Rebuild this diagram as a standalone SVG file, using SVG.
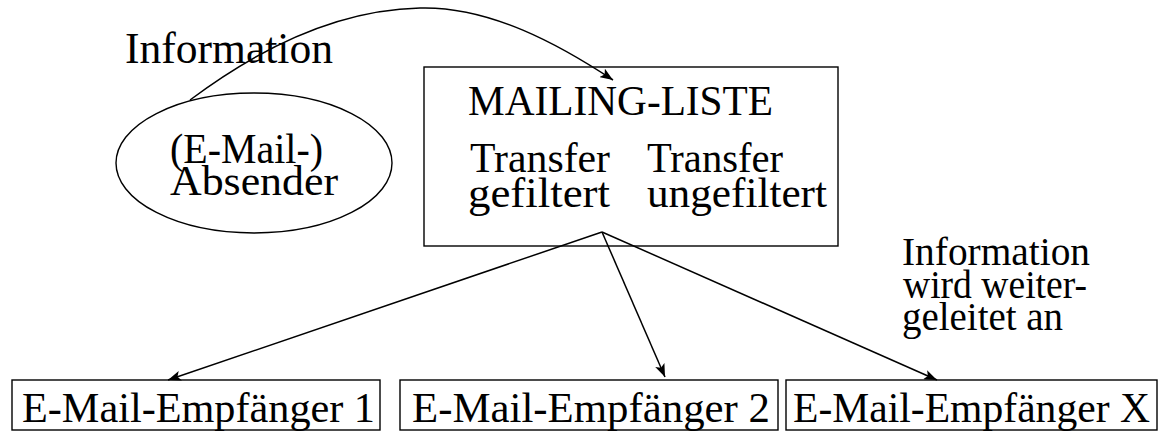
<svg xmlns="http://www.w3.org/2000/svg" width="1160" height="434" viewBox="0 0 1160 434">
  <style>
    .frame { fill: none; stroke: #000; stroke-width: 1.4; }
    .lbl { font-family: "Liberation Serif", "Times New Roman", serif; fill: #000; }
    .big { font-size: 44px; }
    .mid { font-size: 42px; }
    .small { font-size: 39px; }
    .wire { fill: none; stroke: #000; stroke-width: 1.5; marker-end: url(#head); }
  </style>
  <defs>
    <marker id="head" markerUnits="userSpaceOnUse" markerWidth="14" markerHeight="10" refX="13" refY="5" orient="auto">
      <path d="M0,0 L13,5 L0,10 L3,5 z" fill="#000"/>
    </marker>
  </defs>

  <!-- sender -->
  <g id="sender">
    <ellipse class="frame" cx="254" cy="163" rx="138" ry="70"/>
    <text class="lbl mid" x="170" y="163" textLength="153" lengthAdjust="spacingAndGlyphs">(E-Mail-)</text>
    <text class="lbl mid" x="170" y="195" textLength="168" lengthAdjust="spacingAndGlyphs">Absender</text>
  </g>

  <!-- mailing list -->
  <g id="mailing-list">
    <rect class="frame" x="424" y="67" width="414" height="179"/>
    <text class="lbl mid" x="468" y="115" textLength="305" lengthAdjust="spacingAndGlyphs">MAILING-LISTE</text>
    <text class="lbl mid" x="470" y="172" textLength="140" lengthAdjust="spacingAndGlyphs">Transfer</text>
    <text class="lbl mid" x="468" y="207" textLength="142" lengthAdjust="spacingAndGlyphs">gefiltert</text>
    <text class="lbl mid" x="647" y="172" textLength="136" lengthAdjust="spacingAndGlyphs">Transfer</text>
    <text class="lbl mid" x="647" y="207" textLength="180" lengthAdjust="spacingAndGlyphs">ungefiltert</text>
  </g>

  <!-- recipients -->
  <g id="recipient-1">
    <rect class="frame" x="12" y="380" width="368" height="50"/>
    <text class="lbl mid" x="22" y="422" textLength="353" lengthAdjust="spacingAndGlyphs">E-Mail-Empfänger 1</text>
  </g>
  <g id="recipient-2">
    <rect class="frame" x="400" y="380" width="378" height="50"/>
    <text class="lbl mid" x="412" y="422" textLength="358" lengthAdjust="spacingAndGlyphs">E-Mail-Empfänger 2</text>
  </g>
  <g id="recipient-x">
    <rect class="frame" x="786" y="380" width="371" height="50"/>
    <text class="lbl mid" x="793" y="422" textLength="357" lengthAdjust="spacingAndGlyphs">E-Mail-Empfänger X</text>
  </g>

  <!-- free labels -->
  <g id="label-information">
    <text class="lbl big" x="125" y="63" textLength="208" lengthAdjust="spacingAndGlyphs">Information</text>
  </g>
  <g id="label-forwarded">
    <text class="lbl small" x="902" y="265" textLength="188" lengthAdjust="spacingAndGlyphs">Information</text>
    <text class="lbl small" x="903" y="298" textLength="184" lengthAdjust="spacingAndGlyphs">wird weiter-</text>
    <text class="lbl small" x="902" y="330" textLength="161" lengthAdjust="spacingAndGlyphs">geleitet an</text>
  </g>

  <!-- connectors -->
  <g id="connectors">
    <path class="wire" d="M190,100 C250,55 330,10 420,8 C490,6 560,45 613,80"/>
    <path class="wire" d="M602,232 L168,380"/>
    <path class="wire" d="M602,232 L665,377"/>
    <path class="wire" d="M602,232 L937,380"/>
  </g>
</svg>
